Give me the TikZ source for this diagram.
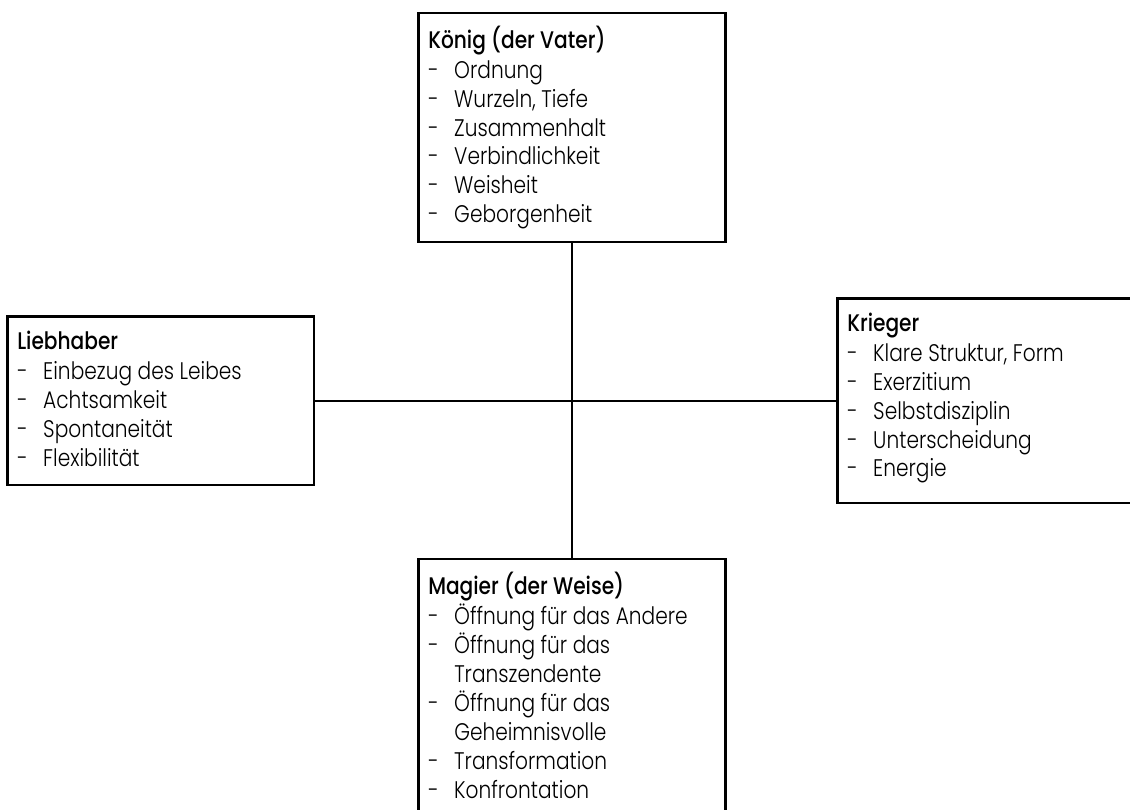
\documentclass[tikz,border=0pt]{standalone}
\usepackage{fontspec}
\setmainfont{Poppins}[UprightFont=* Light, BoldFont=* Medium, FakeStretch=0.84]
\usepackage{array}
\usetikzlibrary{positioning}

\tikzset{rolle/.style={draw, line width=2.5pt, inner sep=0pt, anchor=north west, align=left},
  verbindung/.style={line width=2.5pt}}

% Kasten: Breite, Hoehe, Titel, Eintraege
\newcommand{\kasten}[4]{\parbox[t][#2][t]{#1}{\vspace*{13pt}\hspace*{10pt}%
  \begin{tabular}[t]{@{}p{26pt}@{}l@{}}\multicolumn{2}{@{}l@{}}{\bfseries #3}\\[1pt]#4\end{tabular}}}

\begin{document}
\begin{tikzpicture}[x=1pt, y=-1pt]
\fontsize{24}{28.8}\selectfont
\useasboundingbox (0,0) rectangle (1130,810);

\node[rolle] (koenig) at (417,12) {\kasten{307pt}{229pt}{König (der Vater)}{%
 - & Ordnung\\ - & Wurzeln, Tiefe\\ - & Zusammenhalt\\ - & Verbindlichkeit\\
 - & Weisheit\\ - & Geborgenheit}};
\node[rolle] (liebhaber) at (6,315.5) {\kasten{306.5pt}{168pt}{Liebhaber}{%
 - & Einbezug des Leibes\\ - & Achtsamkeit\\ - & Spontaneität\\ - & Flexibilität}};
\node[rolle] (krieger) at (836,297.5) {\kasten{320pt}{204pt}{Krieger}{%
 - & Klare Struktur, Form\\ - & Exerzitium\\ - & Selbstdisziplin\\
 - & Unterscheidung\\ - & Energie}};
\node[rolle] (magier) at (417,557.5) {\kasten{307pt}{270pt}{Magier (der Weise)}{%
 - & Öffnung für das Andere\\ - & Öffnung für das\\ & Transzendente\\
 - & Öffnung für das\\ & Geheimnisvolle\\ - & Transformation\\ - & Konfrontation}};

\draw[verbindung] (koenig.south) -- (magier.north);
\draw[verbindung] (liebhaber.east) -- (liebhaber.east -| krieger.west);
\end{tikzpicture}
\end{document}
